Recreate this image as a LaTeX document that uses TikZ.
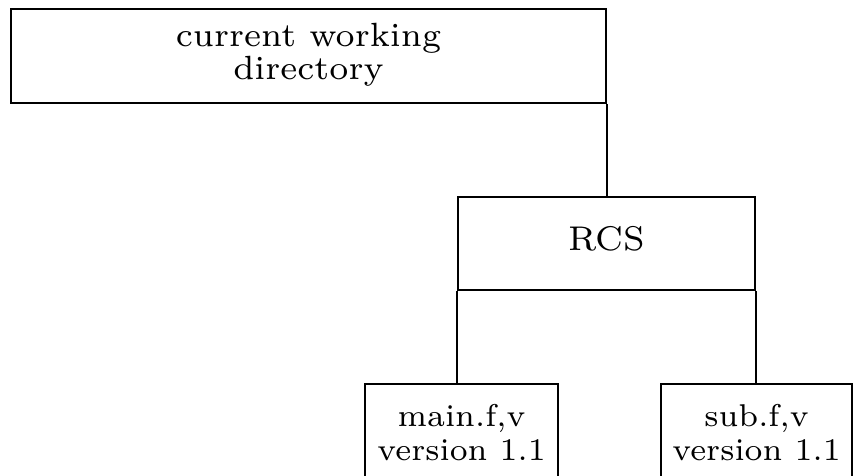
\documentclass[tikz,border=0pt]{standalone}
\usepackage{graphicx}
\newcommand{\boxtext}[3]{\scalebox{#1}{\fontsize{7}{#2}\selectfont\begin{tabular}{@{}c@{}}#3\end{tabular}}}
\begin{document}
\begin{tikzpicture}[x=0.5pt,y=-0.5pt,
  box/.style={draw=black, line width=1pt, rectangle, inner sep=0pt, align=center},
  link/.style={draw=black, line width=0.9pt}]
\clip (0,0) rectangle (853,476);
\node[box, minimum width=297.5pt, minimum height=47pt] (cwd) at (308.5,56) {\boxtext{2.4}{6.8}{current working\\directory}};
\node[box, minimum width=148.5pt, minimum height=46.5pt] (rcs) at (606.5,243.5) {\boxtext{2.45}{6.8}{RCS}};
\node[box, minimum width=96.5pt, minimum height=53pt] (main) at (461.5,437) {\boxtext{2.25}{7.6}{main.f,v\\version 1.1}};
\node[box, minimum width=95.5pt, minimum height=53pt] (sub) at (756.5,437) {\boxtext{2.25}{7.6}{sub.f,v\\version 1.1}};
\draw[link] (cwd.south east) -- (cwd.south east |- rcs.north);
\draw[link] (rcs.south west) -- (rcs.south west |- main.north);
\draw[link] (rcs.south east) -- (rcs.south east |- sub.north);
\end{tikzpicture}
\end{document}
